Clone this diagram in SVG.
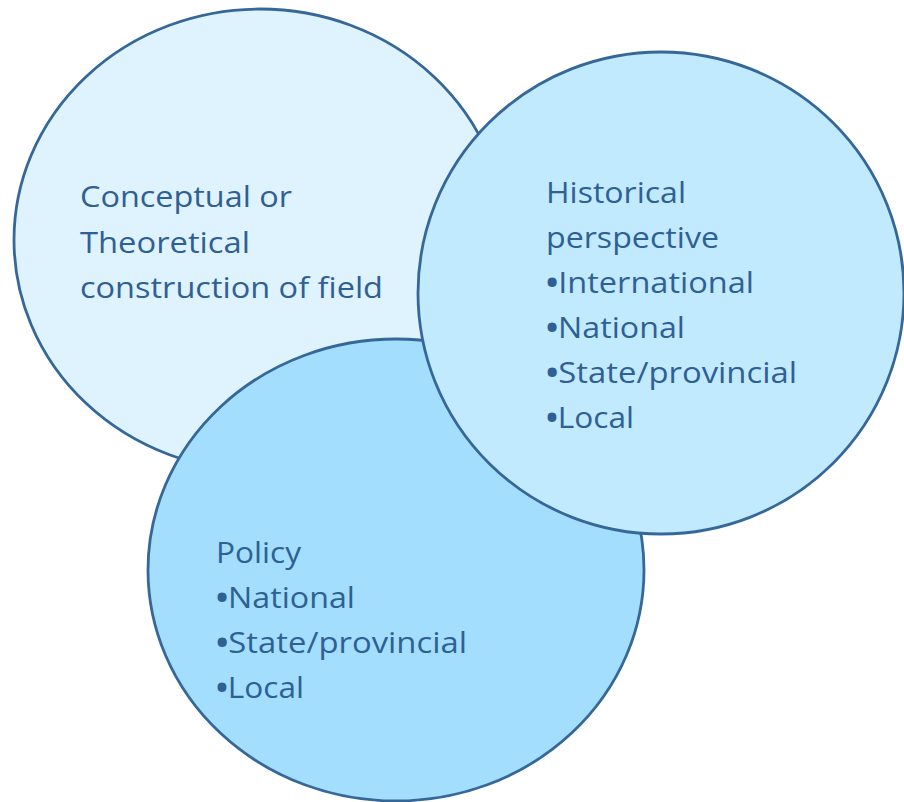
<svg xmlns="http://www.w3.org/2000/svg" width="904" height="802" viewBox="0 0 904 802">
  <style>
    .c { stroke: #356799; stroke-width: 2.8; }
    .t { font-family: "Open Sans", "Liberation Sans", sans-serif; font-size: 30px; fill: #2F6094; }
    .b { font-weight: bold; }
  </style>
  <rect width="904" height="802" fill="#ffffff"/>
  <g id="node-conceptual">
    <ellipse class="c" cx="260" cy="240" rx="246" ry="231" fill="#DFF3FE"/>
    <text class="t" x="80" y="207" textLength="212" lengthAdjust="spacingAndGlyphs">Conceptual or</text>
    <text class="t" x="80" y="253" textLength="170" lengthAdjust="spacingAndGlyphs">Theoretical</text>
    <text class="t" x="80" y="298" textLength="303" lengthAdjust="spacingAndGlyphs">construction of field</text>
  </g>
  <g id="node-policy">
    <ellipse class="c" cx="396" cy="570" rx="248" ry="231" fill="#A3DEFE"/>
    <text class="t" x="216" y="563" textLength="85" lengthAdjust="spacingAndGlyphs">Policy</text>
    <text class="t" x="216" y="608" textLength="139" lengthAdjust="spacingAndGlyphs"><tspan class="b">•</tspan>National</text>
    <text class="t" x="216" y="653" textLength="251" lengthAdjust="spacingAndGlyphs"><tspan class="b">•</tspan>State/provincial</text>
    <text class="t" x="216" y="698" textLength="88" lengthAdjust="spacingAndGlyphs"><tspan class="b">•</tspan>Local</text>
  </g>
  <g id="node-historical">
    <ellipse class="c" cx="661" cy="293" rx="243" ry="241" fill="#C2EAFE"/>
    <text class="t" x="546" y="203" textLength="140" lengthAdjust="spacingAndGlyphs">Historical</text>
    <text class="t" x="546" y="248" textLength="173" lengthAdjust="spacingAndGlyphs">perspective</text>
    <text class="t" x="546" y="293" textLength="208" lengthAdjust="spacingAndGlyphs"><tspan class="b">•</tspan>International</text>
    <text class="t" x="546" y="338" textLength="139" lengthAdjust="spacingAndGlyphs"><tspan class="b">•</tspan>National</text>
    <text class="t" x="546" y="383" textLength="251" lengthAdjust="spacingAndGlyphs"><tspan class="b">•</tspan>State/provincial</text>
    <text class="t" x="546" y="428" textLength="88" lengthAdjust="spacingAndGlyphs"><tspan class="b">•</tspan>Local</text>
  </g>
  <g id="connectors"></g>
</svg>
